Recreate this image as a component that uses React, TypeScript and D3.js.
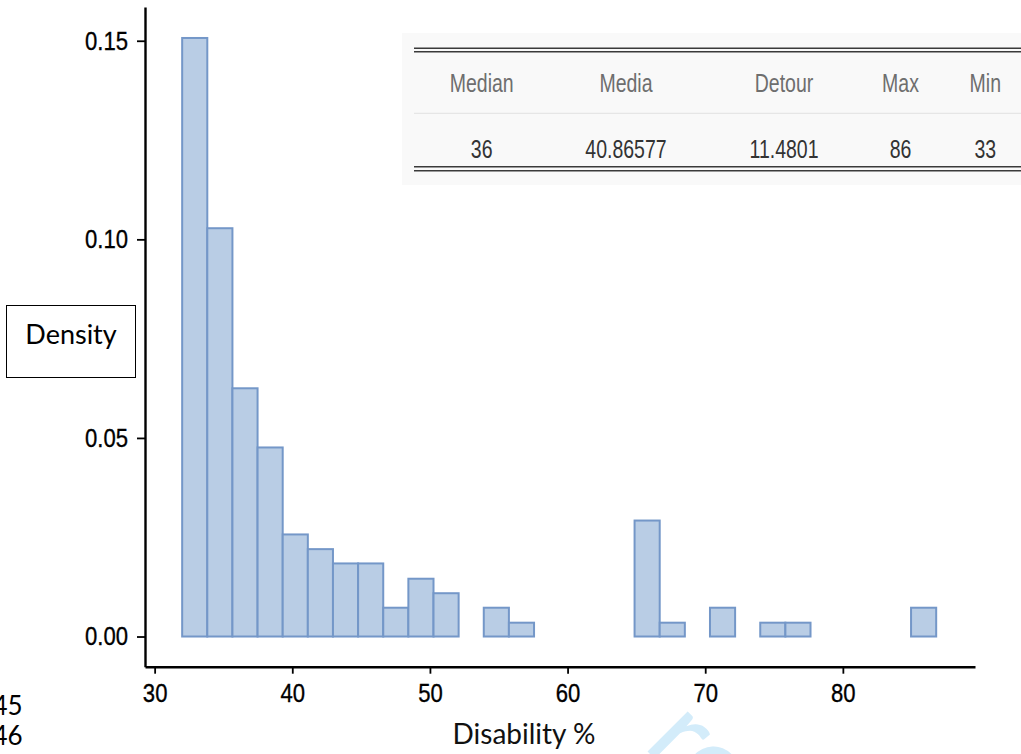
import React, { useEffect, useRef } from "react";
import * as d3 from "d3";

// histogram of disability %, density per bin
const binStart = 32;
const binWidth = 1.826;
const densities = [
  0.1507, 0.1028, 0.0625, 0.0476, 0.0257, 0.022, 0.0184, 0.0184, 0.00725, 0.01455,
  0.0109, 0, 0.00725, 0.00348, 0, 0, 0, 0, 0.0292, 0.00348,
  0, 0.00725, 0, 0.00348, 0.00348, 0, 0, 0, 0, 0.00725
];
const xTicks = [30, 40, 50, 60, 70, 80];
const yTicks = [0, 0.05, 0.1, 0.15];

const statNames = ["Median", "Media", "Detour", "Max", "Min"];
const statValues = ["36", "40.86577", "11.4801", "86", "33"];
const statCenters = [481.7, 626, 784, 900.5, 985.3];

const lineNumbers = ["45", "46"];

const W = 1021;
const H = 754;
const arial = "'Liberation Sans', Arial, sans-serif";
const calibri = "Lato, 'Noto Sans', sans-serif";
const squeeze = 0.85;

function App() {
  const ref = useRef<SVGSVGElement>(null);

  useEffect(() => {
    drawChart();
  });

  const drawChart = () => {
    const svg = d3.select(ref.current);
    svg.selectAll("*").remove();

    const x = d3.scaleLinear().domain([29.3, 89.6]).range([145, 975]);
    const y = d3.scaleLinear().domain([-0.0076, 0.1585]).range([666.7, 7]);

    const bins = densities.map((d, i) => ({
      x0: binStart + i * binWidth,
      x1: binStart + (i + 1) * binWidth,
      d: d
    }));

    // faint watermark fragment at the bottom edge
    svg
      .append("text")
      .attr("transform", "translate(642,746) rotate(45)")
      .attr("font-family", calibri)
      .attr("font-size", 112)
      .attr("fill", "#d3ecfa")
      .text("re");

    // stats table
    const t = svg.append("g");
    t.append("rect")
      .attr("x", 402)
      .attr("y", 33)
      .attr("width", W - 402)
      .attr("height", 152)
      .attr("fill", "#f9f9f9");
    [48.3, 51.7, 166.7, 170.7].forEach(ly => {
      t.append("line")
        .attr("x1", 414)
        .attr("x2", W)
        .attr("y1", ly)
        .attr("y2", ly)
        .attr("stroke", "#3a3a3a")
        .attr("stroke-width", 1.4);
    });
    t.append("line")
      .attr("x1", 414)
      .attr("x2", W)
      .attr("y1", 113.3)
      .attr("y2", 113.3)
      .attr("stroke", "#e2e2e2")
      .attr("stroke-width", 1);
    statNames.forEach((s, i) => {
      t.append("text")
        .attr("transform", `translate(${statCenters[i]},91.7) scale(0.78,1)`)
        .attr("text-anchor", "middle")
        .attr("font-family", arial)
        .attr("font-size", 25)
        .attr("fill", "#6e6e6e")
        .text(s);
      t.append("text")
        .attr("transform", `translate(${statCenters[i]},158.3) scale(0.78,1)`)
        .attr("text-anchor", "middle")
        .attr("font-family", arial)
        .attr("font-size", 25)
        .attr("fill", "#333")
        .text(statValues[i]);
    });

    // bars
    svg
      .append("g")
      .selectAll("rect")
      .data(bins)
      .join("rect")
      .attr("x", b => x(b.x0))
      .attr("y", b => y(b.d))
      .attr("width", b => x(b.x1) - x(b.x0))
      .attr("height", b => y(0) - y(b.d))
      .attr("fill", "#b9cde5")
      .attr("stroke", "#7497c8")
      .attr("stroke-width", 2);

    // axes
    const gy = svg
      .append("g")
      .attr("transform", "translate(145,0)")
      .call(
        d3
          .axisLeft(y)
          .tickValues(yTicks)
          .tickFormat(d3.format(".2f"))
          .tickSize(8)
          .tickSizeOuter(0)
          .tickPadding(9)
      );
    const gx = svg
      .append("g")
      .attr("transform", "translate(0,666.7)")
      .call(
        d3
          .axisBottom(x)
          .tickValues(xTicks)
          .tickFormat(d3.format("d"))
          .tickSize(7)
          .tickSizeOuter(0)
          .tickPadding(9.5)
      );
    [gx, gy].forEach(g => {
      g.select(".domain").attr("stroke", "#000").attr("stroke-width", 2.4);
      g.selectAll(".tick line").attr("stroke", "#000").attr("stroke-width", 1.8);
      g.selectAll(".tick text")
        .attr("font-family", arial)
        .attr("font-size", 26)
        .attr("fill", "#000")
        .attr("stroke", "#000")
        .attr("stroke-width", 0.35);
    });
    // narrow the tick labels (Arial Narrow look)
    gy.selectAll(".tick text")
      .attr("x", -17 / squeeze)
      .attr("transform", `scale(${squeeze},1)`);
    gx.selectAll(".tick text").attr("transform", `scale(${squeeze},1)`);

    // axis titles
    svg
      .append("text")
      .attr("x", 524)
      .attr("y", 744)
      .attr("text-anchor", "middle")
      .attr("font-family", calibri)
      .attr("font-size", 28)
      .attr("fill", "#111")
      .text("Disability %");

    svg
      .append("rect")
      .attr("x", 6.5)
      .attr("y", 305.5)
      .attr("width", 129)
      .attr("height", 72)
      .attr("fill", "#fff")
      .attr("stroke", "#000")
      .attr("stroke-width", 1);
    svg
      .append("text")
      .attr("x", 71)
      .attr("y", 343.5)
      .attr("text-anchor", "middle")
      .attr("font-family", calibri)
      .attr("font-size", 27)
      .attr("fill", "#000")
      .text("Density");

    lineNumbers.forEach((n, i) => {
      svg
        .append("text")
        .attr("x", 22.7)
        .attr("y", 715 + i * 30)
        .attr("text-anchor", "end")
        .attr("font-family", calibri)
        .attr("font-size", 26)
        .attr("fill", "#000")
        .text(n);
    });
  };

  return (
    <div style={{ position: "absolute", left: 0, top: 0 }}>
      <svg ref={ref} width={W} height={H} style={{ display: "block", background: "#fff" }} />
    </div>
  );
}

export default App;
